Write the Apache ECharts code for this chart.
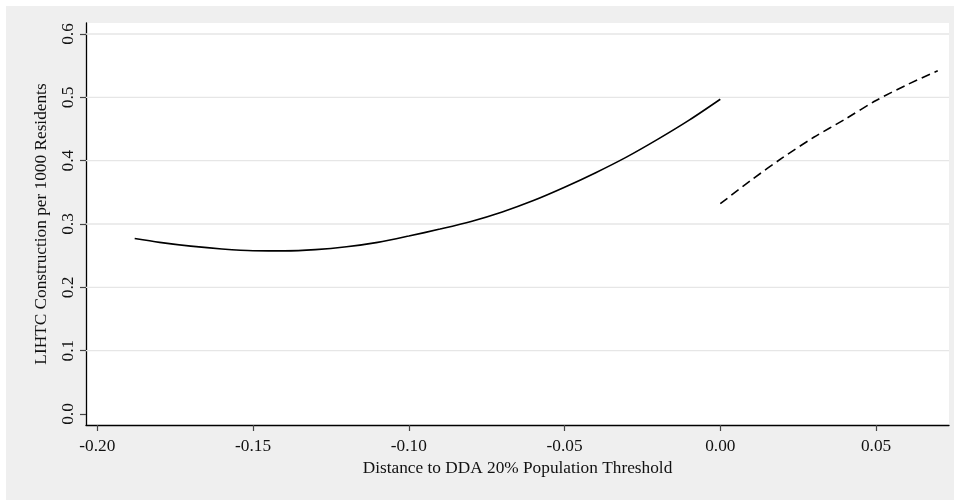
<!DOCTYPE html>
<html>
<head>
<meta charset="utf-8">
<script src="https://cdn.jsdelivr.net/npm/echarts@6/dist/echarts.min.js"></script>
<style>
html,body{margin:0;padding:0;background:#fff;}
#chart{width:954px;height:500px;}
</style>
</head>
<body>
<div id="chart"></div>
<script>
// Solid fit (left of threshold)
const solidX = [-0.188, -0.18, -0.17, -0.16, -0.15, -0.14, -0.13, -0.12, -0.11, -0.10, -0.09, -0.08, -0.07, -0.06, -0.05, -0.04, -0.03, -0.02, -0.01, 0.0];
const solidY = [0.277, 0.271, 0.265, 0.2605, 0.2578, 0.2576, 0.2595, 0.264, 0.271, 0.281, 0.292, 0.304, 0.319, 0.337, 0.358, 0.381, 0.406, 0.434, 0.464, 0.497];
// Dashed fit (right of threshold)
const dashX = [0.0, 0.01, 0.02, 0.03, 0.04, 0.05, 0.06, 0.0698];
const dashY = [0.332, 0.3695, 0.4047, 0.4369, 0.4653, 0.495, 0.520, 0.542];
// Ticks
const xTicks = [-0.20, -0.15, -0.10, -0.05, 0.00, 0.05];
const yTicks = [0.0, 0.1, 0.2, 0.3, 0.4, 0.5, 0.6];
const gridYs = [0.1, 0.2, 0.3, 0.4, 0.5, 0.6];

const X_MIN = -0.20363, X_MAX = 0.07342;
const Y_MIN = -0.01737, Y_MAX = 0.61737;

const FONT = 'Liberation Serif';
const chart = echarts.init(document.getElementById('chart'), null, {renderer: 'canvas'});

const gridData = [];
gridYs.forEach(v => { gridData.push([X_MIN, v], [X_MAX, v], '-'); });

const option = {
  backgroundColor: 'transparent',
  animation: false,
  graphic: [{
    type: 'rect', z: -100, silent: true,
    shape: {x: 6, y: 6, width: 948, height: 494},
    style: {fill: '#efefef'}
  }],
  grid: {
    left: 86, right: 5, top: 23, bottom: 75,
    show: true, backgroundColor: '#ffffff', borderWidth: 0
  },
  xAxis: {
    type: 'value',
    min: X_MIN, max: X_MAX,
    name: 'Distance to DDA 20% Population Threshold',
    nameLocation: 'middle', nameGap: 35,
    nameTextStyle: {fontFamily: FONT, fontSize: 17.3, color: '#111'},
    axisLine: {show: true, onZero: false, lineStyle: {color: '#000', width: 1.3}},
    axisTick: {show: true, length: 6, customValues: xTicks, lineStyle: {color: '#444', width: 1.2}},
    axisLabel: {
      show: true, margin: 13, customValues: xTicks,
      fontFamily: FONT, fontSize: 17.3, color: '#111',
      formatter: v => v.toFixed(2)
    },
    splitLine: {show: false}
  },
  yAxis: {
    type: 'value',
    min: Y_MIN, max: Y_MAX,
    name: 'LIHTC Construction per 1000 Residents',
    nameLocation: 'middle', nameGap: 36,
    nameTextStyle: {fontFamily: FONT, fontSize: 17.3, color: '#111'},
    axisLine: {show: true, onZero: false, lineStyle: {color: '#000', width: 1.3}},
    axisTick: {show: true, length: 6, customValues: yTicks, lineStyle: {color: '#444', width: 1.2}},
    axisLabel: {
      show: true, margin: 9, rotate: 90, customValues: yTicks,
      fontFamily: FONT, fontSize: 17.3, color: '#111',
      formatter: v => v.toFixed(1)
    },
    splitLine: {show: false}
  },
  series: [
    {
      type: 'line', z: 1, silent: true, showSymbol: false, connectNulls: false,
      data: gridData,
      lineStyle: {color: '#e6e6e6', width: 1.3, type: 'solid'}
    },
    {
      type: 'line', z: 5, showSymbol: false, smooth: 0.3,
      data: solidX.map((x, i) => [x, solidY[i]]),
      lineStyle: {color: '#000', width: 1.6, type: 'solid'}
    },
    {
      type: 'line', z: 5, showSymbol: false, smooth: 0.3,
      data: dashX.map((x, i) => [x, dashY[i]]),
      lineStyle: {color: '#000', width: 1.6, type: [9, 5]}
    }
  ]
};
chart.setOption(option);
</script>
</body>
</html>
